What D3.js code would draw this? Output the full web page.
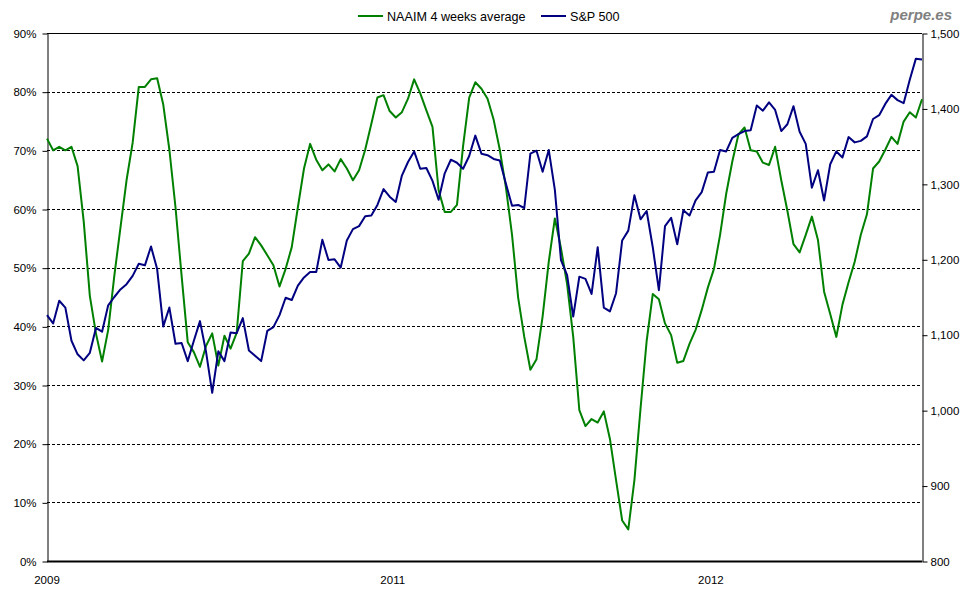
<!DOCTYPE html>
<html>
<head>
<meta charset="utf-8">
<script src="https://cdn.jsdelivr.net/npm/d3@7"></script>
<style>
  html, body { margin: 0; padding: 0; background: #fff; }
  svg { display: block; font-family: "Liberation Sans", Arial, sans-serif; }
</style>
</head>
<body>
<svg id="chart" width="980" height="600"></svg>
<script>
// NAAIM exposure index, 4 weeks average (fraction), weekly
const naaim = [
  0.720, 0.700, 0.706, 0.700, 0.706, 0.673, 0.579, 0.452, 0.388, 0.340,
  0.394, 0.486, 0.568, 0.649, 0.713, 0.808, 0.808, 0.821, 0.823, 0.778,
  0.701, 0.603, 0.486, 0.373, 0.356, 0.331, 0.367, 0.388, 0.333, 0.384,
  0.362, 0.389, 0.511, 0.524, 0.552, 0.538, 0.521, 0.504, 0.468, 0.498,
  0.535, 0.603, 0.669, 0.711, 0.684, 0.666, 0.676, 0.664, 0.685, 0.669,
  0.649, 0.666, 0.701, 0.745, 0.790, 0.794, 0.767, 0.756, 0.765, 0.788,
  0.821, 0.797, 0.768, 0.740, 0.632, 0.595, 0.595, 0.607, 0.707, 0.790,
  0.816, 0.805, 0.788, 0.752, 0.701, 0.637, 0.556, 0.449, 0.382, 0.326,
  0.344, 0.417, 0.510, 0.584, 0.533, 0.472, 0.382, 0.257, 0.230, 0.242,
  0.236, 0.255, 0.208, 0.138, 0.069, 0.054, 0.138, 0.260, 0.375, 0.455,
  0.446, 0.405, 0.385, 0.338, 0.341, 0.370, 0.394, 0.428, 0.466, 0.498,
  0.556, 0.626, 0.681, 0.727, 0.739, 0.700, 0.698, 0.679, 0.675, 0.706,
  0.649, 0.597, 0.540, 0.526, 0.556, 0.587, 0.547, 0.459, 0.421, 0.382,
  0.437, 0.475, 0.510, 0.556, 0.591, 0.669, 0.681, 0.701, 0.723, 0.711,
  0.749, 0.765, 0.756, 0.787
];
// S&P 500 weekly close
const sp500 = [
  1126, 1115, 1145, 1136, 1092, 1074, 1066, 1076, 1109, 1104,
  1139, 1150, 1160, 1167, 1178, 1194, 1192, 1217, 1187, 1111,
  1136, 1088, 1089, 1065, 1092, 1118, 1077, 1023, 1078, 1065,
  1103, 1102, 1122, 1079, 1072, 1065, 1105, 1110, 1126, 1149,
  1146, 1165, 1176, 1183, 1183, 1226, 1199, 1200, 1189, 1225,
  1240, 1244, 1257, 1258, 1272, 1293, 1283, 1276, 1311, 1329,
  1343, 1320, 1321, 1304, 1279, 1314, 1332, 1328, 1320, 1337,
  1364, 1340, 1338, 1333, 1331, 1300, 1271, 1272, 1268, 1340,
  1344, 1316, 1345, 1292, 1199, 1179, 1124, 1177, 1174, 1154,
  1216, 1136, 1131, 1155, 1225, 1238, 1285, 1253, 1264, 1216,
  1159, 1244, 1255, 1220, 1265, 1258, 1278, 1289, 1315, 1316,
  1345, 1343, 1361, 1366, 1370, 1371, 1404, 1397, 1408, 1398,
  1370, 1379, 1403, 1369, 1353, 1295, 1318, 1278, 1326, 1343,
  1335, 1362, 1355, 1357, 1363, 1386, 1391, 1406, 1418, 1411,
  1407, 1438, 1466, 1465
];
// category axis labels and the week they sit on
const xLabels = ["2009", "2011", "2012"];
const xLabelWeeks = [0, 56.5, 108.5];
const leftTicks = [0, 0.1, 0.2, 0.3, 0.4, 0.5, 0.6, 0.7, 0.8, 0.9];
const rightTicks = [800, 900, 1000, 1100, 1200, 1300, 1400, 1500];
const seriesNames = ["NAAIM 4 weeks average", "S&P 500"];
const seriesColors = ["#008000", "#000080"];

const svg = d3.select("#chart");
const L = 47, R = 922, T = 33, B = 561;

const x = d3.scaleLinear().domain([0, naaim.length - 1]).range([L, R]);
const yL = d3.scaleLinear().domain([0, 0.9]).range([B, T]);
const yR = d3.scaleLinear().domain([800, 1500]).range([B, T]);

// gridlines
svg.append("g").selectAll("line")
  .data(leftTicks.filter(d => d > 0 && d < 0.9))
  .join("line")
  .attr("x1", L).attr("x2", R)
  .attr("y1", d => Math.round(yL(d)) + 0.5).attr("y2", d => Math.round(yL(d)) + 0.5)
  .attr("stroke", "#000").attr("stroke-width", 1).attr("stroke-dasharray", "3,2");

// top border
svg.append("line").attr("x1", L).attr("x2", R).attr("y1", T + 0.5).attr("y2", T + 0.5)
  .attr("stroke", "#000").attr("stroke-width", 1.2);

// left axis
const axL = svg.append("g").attr("transform", `translate(${L + 0.5},0.5)`)
  .call(d3.axisLeft(yL).tickValues(leftTicks).tickFormat(d3.format(".0%")).tickSize(5).tickSizeOuter(0));
axL.selectAll("text").attr("font-size", 11.5).attr("fill", "#000").attr("x", -11);
axL.selectAll("line, path").attr("stroke", "#000");

// right axis
const axR = svg.append("g").attr("transform", `translate(${R + 0.5},0.5)`)
  .call(d3.axisRight(yR).tickValues(rightTicks).tickFormat(d3.format(",")).tickSize(5).tickSizeOuter(0));
axR.selectAll("text").attr("font-size", 11.5).attr("fill", "#000").attr("x", 8);
axR.selectAll("line, path").attr("stroke", "#000");

// bottom axis
svg.append("line").attr("x1", L).attr("x2", R).attr("y1", B + 0.5).attr("y2", B + 0.5)
  .attr("stroke", "#000").attr("stroke-width", 2);
svg.append("g").selectAll("text")
  .data(xLabels)
  .join("text")
  .attr("x", (d, i) => x(xLabelWeeks[i]))
  .attr("y", 584)
  .attr("text-anchor", "middle")
  .attr("font-size", 11.5)
  .attr("fill", "#000")
  .text(d => d);

// lines
const lineL = d3.line().x((d, i) => x(i)).y(d => yL(d));
const lineR = d3.line().x((d, i) => x(i)).y(d => yR(d));
svg.append("path").datum(naaim).attr("d", lineL)
  .attr("fill", "none").attr("stroke", seriesColors[0]).attr("stroke-width", 2).attr("stroke-linejoin", "round");
svg.append("path").datum(sp500).attr("d", lineR)
  .attr("fill", "none").attr("stroke", seriesColors[1]).attr("stroke-width", 2).attr("stroke-linejoin", "round");

// legend
const legX = [358, 541];
const lg = svg.append("g");
seriesNames.forEach((name, i) => {
  lg.append("line").attr("x1", legX[i]).attr("x2", legX[i] + 25).attr("y1", 16).attr("y2", 16)
    .attr("stroke", seriesColors[i]).attr("stroke-width", 2);
  lg.append("text").attr("x", legX[i] + 29).attr("y", 20.5).attr("font-size", 12.6).attr("fill", "#000").text(name);
});

// watermark
svg.append("text").attr("x", 952).attr("y", 20).attr("text-anchor", "end")
  .attr("font-size", 15).attr("font-weight", "bold").attr("font-style", "italic")
  .attr("fill", "#808080").text("perpe.es");
</script>
</body>
</html>
